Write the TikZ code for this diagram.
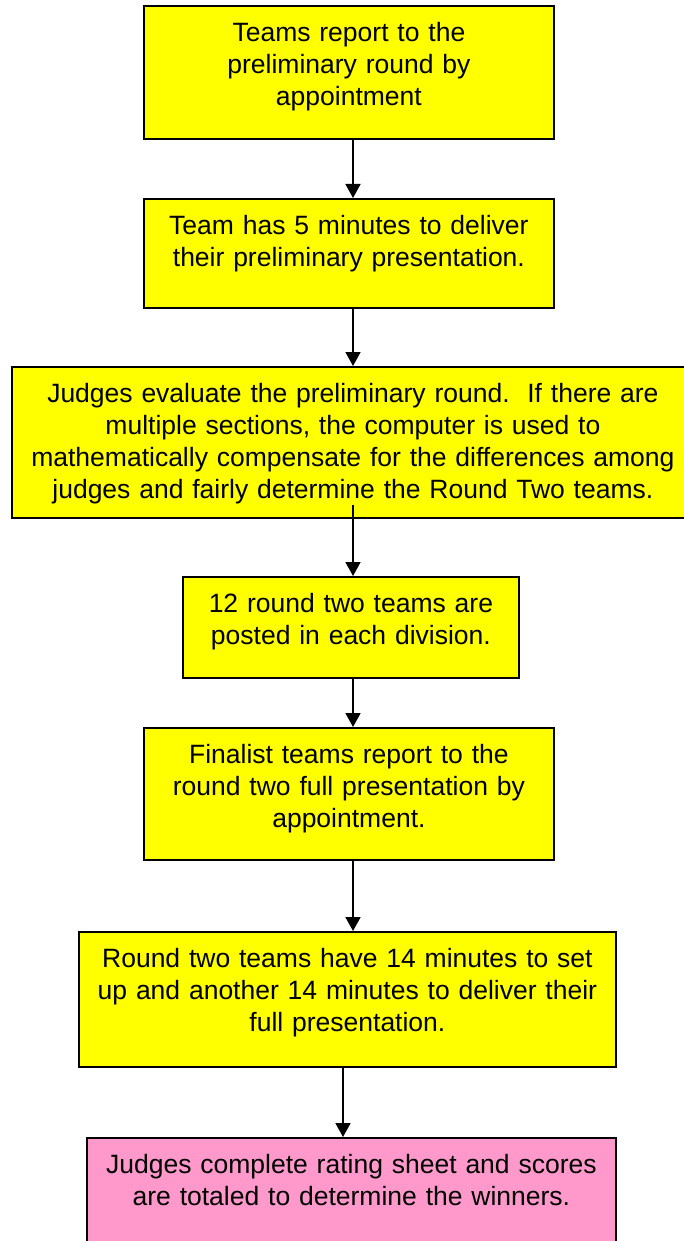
\documentclass[tikz,border=0pt]{standalone}
\usepackage{fontspec}
\setmainfont{Liberation Sans}
\usepackage{tikz}
\usetikzlibrary{arrows.meta}
\definecolor{boxyellow}{HTML}{FFFF00}
\definecolor{boxpink}{HTML}{FF99CC}
\tikzset{
	% ---- default
	every node/.style={font=\fontsize{26.5}{32}\selectfont},
	% ---- custom
	stepbox/.style={draw=black, line width=1.8pt, fill=boxyellow, anchor=north west, inner sep=0pt, text height=36pt, align=center},
	lastbox/.style={stepbox, fill=boxpink},
	flow/.style={line width=1.8pt, -{Triangle[length=14pt, width=15pt]}},
}

\begin{document}
\begin{tikzpicture}[x=1pt, y=-1pt]

% frame %{{{2

	\useasboundingbox (0,0) rectangle (684,1241);

% coordinates %{{{2

	\coordinate (ax) at (353,0);
	\coordinate (bx) at (343,0);

% boxes %{{{2

	\node[stepbox, text width=410pt, text depth=97pt] (report) at (143,5)
		{Teams report to the\\preliminary round by\\appointment};
	\node[stepbox, text width=410pt, text depth=73pt] (deliver) at (143,198)
		{Team has 5 minutes to deliver\\their preliminary presentation.};
	\node[stepbox, text width=682pt, text depth=115pt] (evaluate) at (11,366)
		{Judges evaluate the preliminary round.\ \ If there are\\multiple sections, the computer is used to\\mathematically compensate for the differences among\\judges and fairly determine the Round Two teams.};
	\node[stepbox, text width=336pt, text depth=65pt] (posted) at (182,576)
		{12 round two teams are\\posted in each division.};
	\node[stepbox, text width=410pt, text depth=96pt] (finalist) at (143,727)
		{Finalist teams report to the\\round two full presentation by\\appointment.};
	\node[stepbox, text width=537pt, text depth=99pt] (roundtwo) at (78,931)
		{Round two teams have 14 minutes to set\\up and another 14 minutes to deliver their\\full presentation.};
	\node[lastbox, text width=529pt, text depth=77pt] (winners) at (86,1137)
		{Judges complete rating sheet and scores\\are totaled to determine the winners.};

% arrows %{{{2

	\draw[flow] (report.south -| ax) -- (deliver.north -| ax);
	\draw[flow] (deliver.south -| ax) -- (evaluate.north -| ax);
	\draw[flow] ([yshift=14pt]evaluate.south -| ax) -- (posted.north -| ax);
	\draw[flow] (posted.south -| ax) -- (finalist.north -| ax);
	\draw[flow] (finalist.south -| ax) -- (roundtwo.north -| ax);
	\draw[flow] (roundtwo.south -| bx) -- (winners.north -| bx);

% closing %{{{2

\end{tikzpicture}
\end{document}
